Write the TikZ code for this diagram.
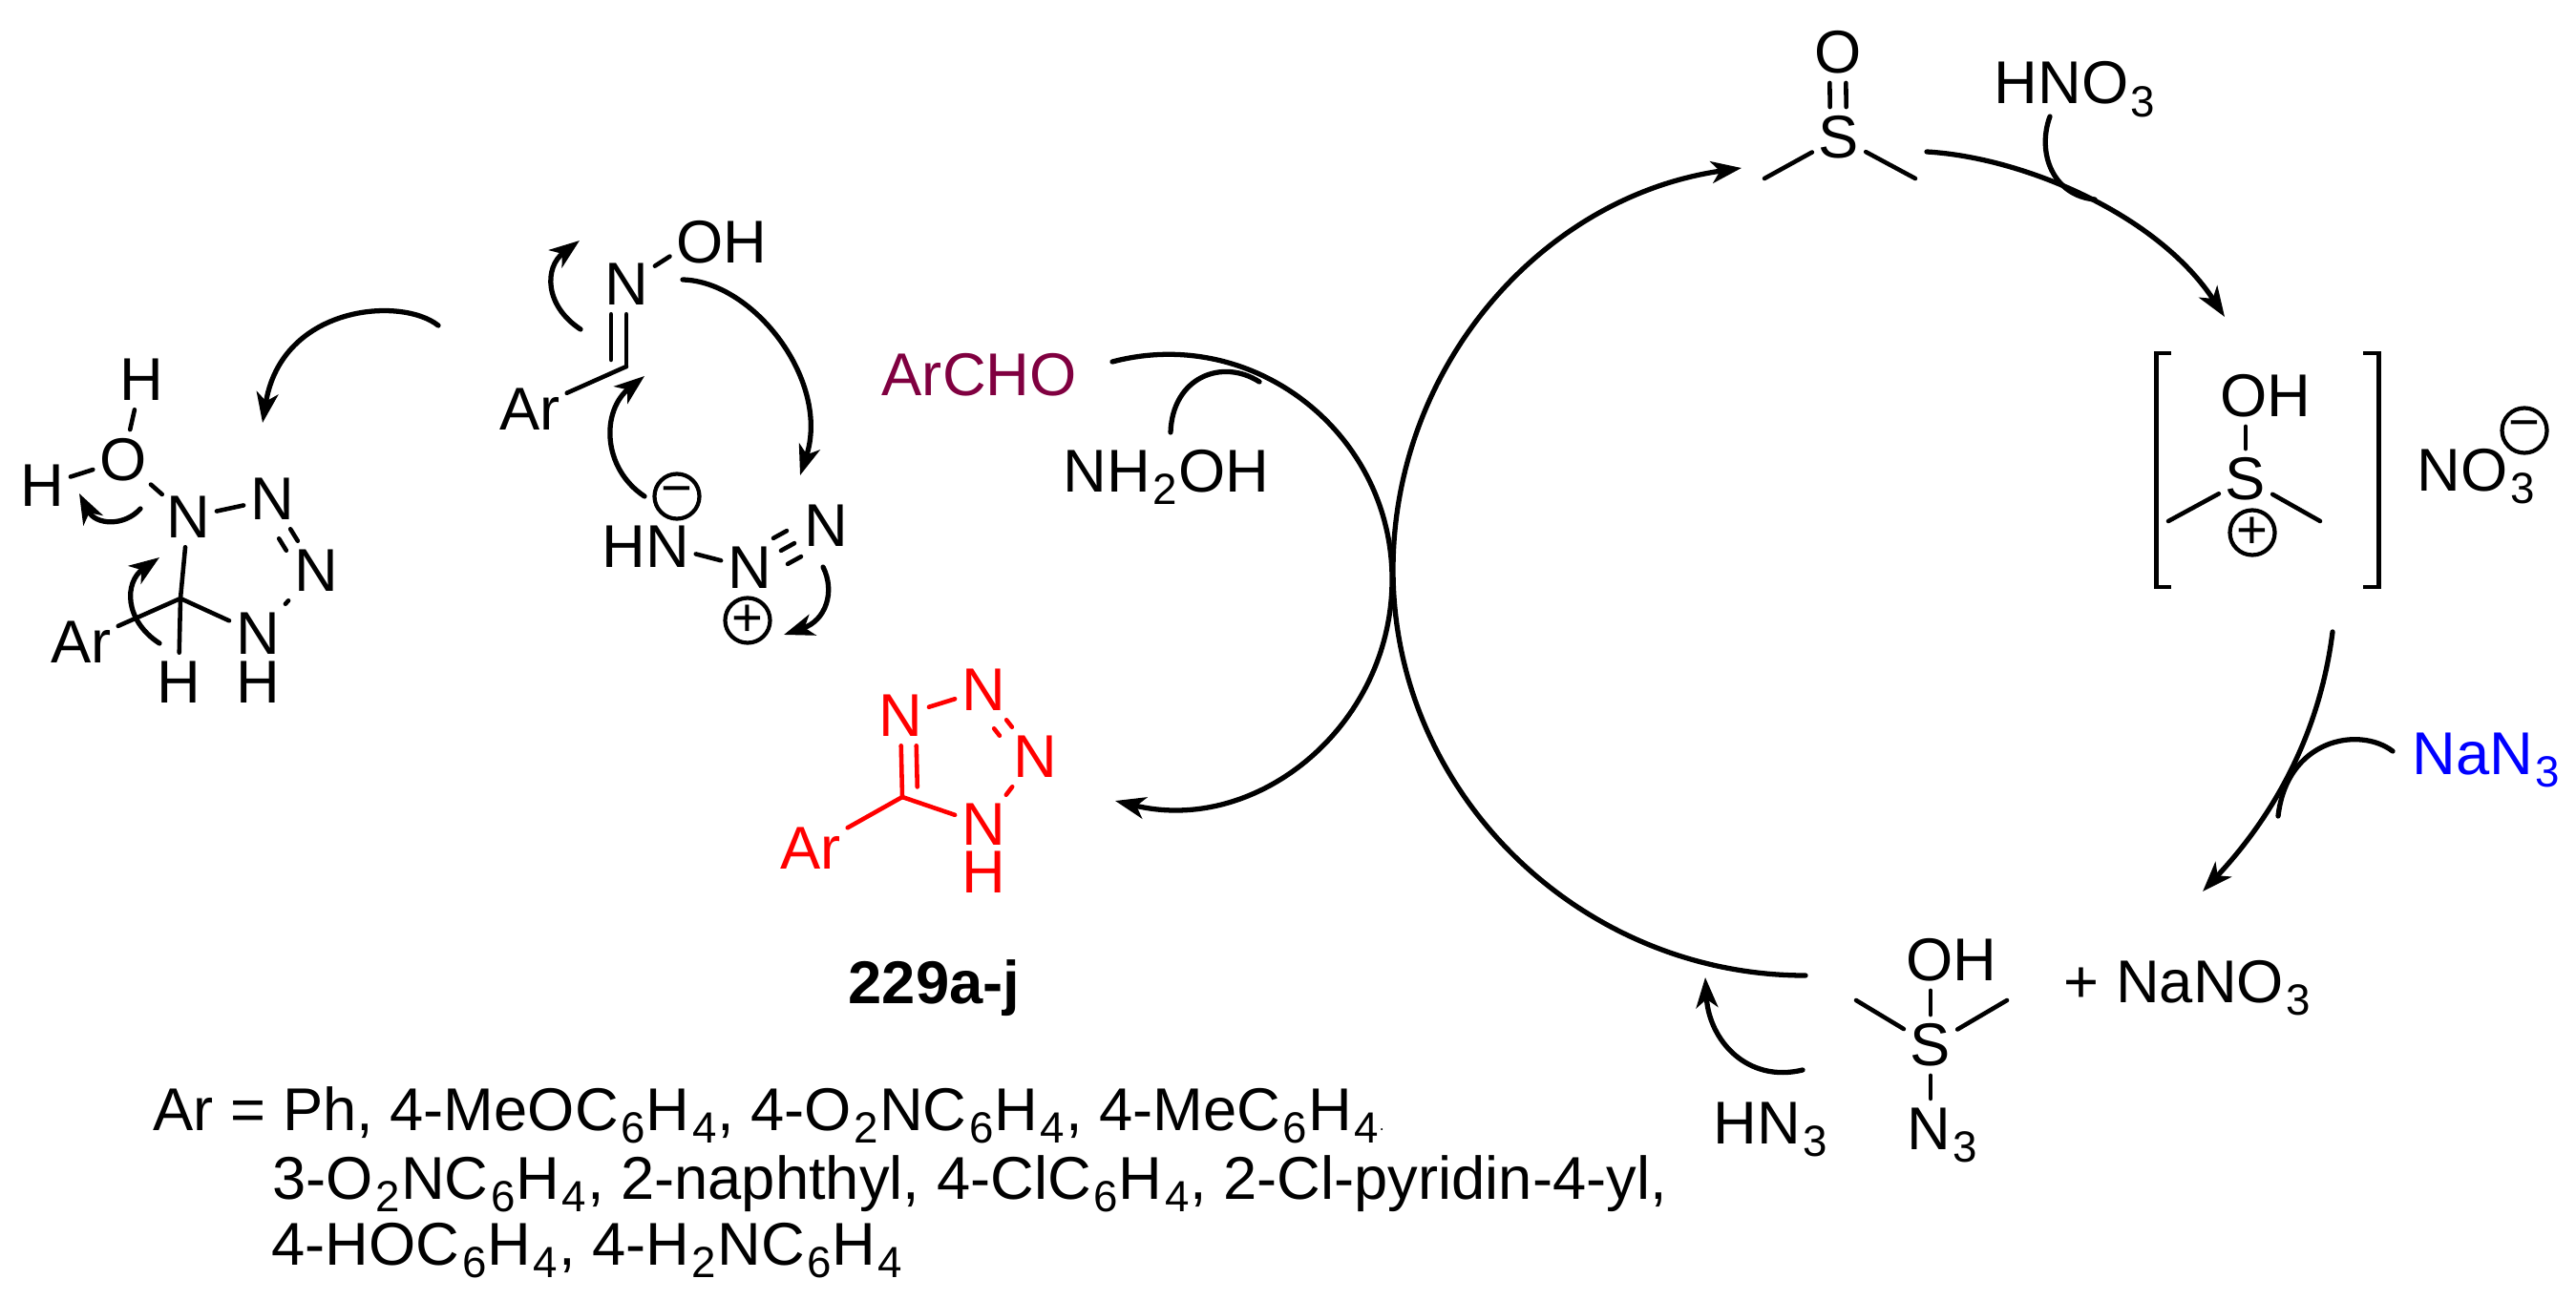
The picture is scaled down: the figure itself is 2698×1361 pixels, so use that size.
\documentclass[tikz,border=0pt]{standalone}
\usepackage{fontspec}
\setmainfont{Liberation Sans}
\usetikzlibrary{arrows.meta}
\definecolor{aldehyde}{HTML}{800040}
\newcommand{\lowidx}[1]{\kern.7pt\raisebox{-3.9pt}{\fontsize{13}{13}\selectfont #1}\kern.3pt}
\tikzset{
	atom/.style={inner xsep=1.8pt,inner ysep=2.5pt,font=\fontsize{18}{20}\selectfont},
	lbl/.style={anchor=base west,inner xsep=0pt,inner ysep=2.5pt,font=\fontsize{18}{20}\selectfont},
	charge/.style={shape=circle,draw=black,line width=1.2pt,minimum size=.47cm,inner sep=0pt,font=\fontsize{16}{16}\selectfont},
	bond/.style={line width=1.3pt,line cap=round},
	curved/.style={line width=1.5pt,line cap=round,-{Stealth[length=9pt,width=6.5pt,inset=2.5pt]}},
	plain/.style={line width=1.5pt,line cap=round}
}
\begin{document}
\begin{tikzpicture}[x=.01cm,y=-.01cm]
	\useasboundingbox (0,0) rectangle (2698,1361);

	% open ring intermediate
	\node[atom] (h1) at (148, 398) {H};
	\node[atom] (o1) at (129, 482) {O};
	\node[atom] (h2) at (44, 509) {H};
	\node[atom] (n1) at (197, 542) {N};
	\node[atom] (n2) at (285, 523) {N};
	\node[atom] (n3) at (331, 598) {N};
	\node[atom] (n4) at (270, 664) {N};
	\node[atom] (h3) at (270, 715) {H};
	\node[atom] (h4) at (187, 715) {H};
	\node[atom] (ar1) at (85, 673) {Ar};
	\coordinate (c1) at (189, 627);

	\draw[bond] (h1) -- (o1);
	\draw[bond] (h2) -- (o1);
	\draw[bond,shorten <=-1pt,shorten >=-1pt] (o1) -- (n1);
	\draw[bond] (n1) -- (n2);
	\draw[bond] (n2) -- (n3);
	\draw[bond,transform canvas={shift={(-12,10)}}] (n2) -- (n3);
	\draw[bond] (n3) -- (n4);
	\draw[bond] (n1) -- (c1);
	\draw[bond] (c1) -- (n4);
	\draw[bond] (c1) -- (ar1);
	\draw[bond] (c1) -- (h4);

	% oxime and azide
	\node[atom] (n5) at (656, 298) {N};
	\node[atom] (oh1) at (756, 254) {OH};
	\node[atom] (ar2) at (555, 429) {Ar};
	\coordinate (c2) at (656, 384);
	\node[atom] (hn) at (676, 573) {HN};
	\node[atom] (n6) at (785, 595) {N};
	\node[atom] (n7) at (865, 551) {N};
	\node[charge] (minus1) at (709, 520) {−};
	\node[charge] (plus1) at (783, 650) {+};

	\draw[bond] (n5) -- (oh1.195);
	\draw[bond] (n5) -- (c2);
	\draw[bond,shorten >=2pt,transform canvas={shift={(-16,0)}}] (n5) -- (c2);
	\draw[bond] (c2) -- (ar2);
	\draw[bond] (hn.352) -- (n6);
	\draw[bond,shorten <=1pt,shorten >=1pt] (n6) -- (n7);
	\draw[bond,shorten <=1pt,shorten >=1pt,transform canvas={shift={(-8,-13)}}] (n6) -- (n7);
	\draw[bond,shorten <=1pt,shorten >=1pt,transform canvas={shift={(7,14)}}] (n6) -- (n7);

	% product
	\begin{scope}[red]
	\node[atom] (n8) at (943, 750) {N};
	\node[atom] (n9) at (1030, 723) {N};
	\node[atom] (n10) at (1084, 793) {N};
	\node[atom] (n11) at (1030, 864) {N};
	\node[atom] (h5) at (1030, 914) {H};
	\node[atom] (ar3) at (849, 889) {Ar};
	\coordinate (c3) at (945, 835);
	\draw[bond] (n8) -- (c3);
	\draw[bond,shorten >=3pt,transform canvas={shift={(16,0)}}] (n8) -- (c3);
	\draw[bond] (n8) -- (n9);
	\draw[bond] (n9) -- (n10);
	\draw[bond,transform canvas={shift={(-13,9)}}] (n9) -- (n10);
	\draw[bond] (n10) -- (n11);
	\draw[bond] (c3) -- (n11);
	\draw[bond] (c3) -- (ar3);
	\end{scope}
	\node[lbl,font=\fontsize{18}{20}\selectfont\bfseries] (cpd) at (888, 1051) {229a-j};

	% sulfoxide
	\node[atom] (o2) at (1925, 55) {O};
	\node[atom] (s1) at (1926, 144) {S};
	\coordinate (me1) at (1848, 187);
	\coordinate (me2) at (2006, 187);
	\draw[bond,transform canvas={shift={(-9,0)}}] (o2) -- (s1);
	\draw[bond,transform canvas={shift={(8,0)}}] (o2) -- (s1);
	\draw[bond] (s1) -- (me1);
	\draw[bond] (s1) -- (me2);
	\node[lbl] (hno3) at (2088, 109) {HNO\lowidx{3}};

	% protonated sulfoxide
	\node[atom] (oh2) at (2373, 415) {OH};
	\node[atom] (s2) at (2352, 502) {S};
	\node[charge] (plus2) at (2359, 558) {+};
	\coordinate (me3) at (2271, 546);
	\coordinate (me4) at (2430, 546);
	\draw[bond] (s2) -- (s2 |- oh2.south);
	\draw[bond] (s2) -- (me3);
	\draw[bond] (s2) -- (me4);
	\draw[line width=1.4pt] (2274, 370) -| (2258, 615) -- (2274, 615);
	\draw[line width=1.4pt] (2475, 370) -| (2491, 615) -- (2475, 615);
	\node[lbl] (no3) at (2531, 514) {NO\lowidx{3}};
	\node[charge] (minus2) at (2644, 451) {−};
	\node[lbl,blue] (nan3) at (2526, 811) {NaN\lowidx{3}};

	% azido sulfur
	\node[atom] (oh3) at (2044, 1006) {OH};
	\node[atom] (s3) at (2022, 1095) {S};
	\node[lbl] (n12) at (1997, 1204) {N\lowidx{3}};
	\coordinate (me5) at (1944, 1048);
	\coordinate (me6) at (2102, 1048);
	\draw[bond] (s3) -- (s3 |- oh3.south);
	\draw[bond] (s3) -- (s3 |- n12.north);
	\draw[bond] (s3) -- (me5);
	\draw[bond] (s3) -- (me6);
	\node[lbl] (nano3) at (2161, 1050) {+ NaNO\lowidx{3}};
	\node[lbl] (hn3) at (1794, 1198) {HN\lowidx{3}};

	\node[lbl,aldehyde] (archo) at (923, 414) {ArCHO};
	\node[lbl] (nh2oh) at (1113, 515) {NH\lowidx{2}OH};

	% text under the scheme
	\node[lbl] (line1) at (160, 1184) {Ar = Ph, 4-MeOC\lowidx{6}H\lowidx{4}, 4-O\lowidx{2}NC\lowidx{6}H\lowidx{4}, 4-MeC\lowidx{6}H\lowidx{4}{\fontsize{5}{5}\selectfont .}};
	\node[lbl] (line2) at (285, 1256) {3-O\lowidx{2}NC\lowidx{6}H\lowidx{4}, 2-naphthyl, 4-ClC\lowidx{6}H\lowidx{4}, 2-Cl-pyridin-4-yl,};
	\node[lbl] (line3) at (284, 1325) {4-HOC\lowidx{6}H\lowidx{4}, 4-H\lowidx{2}NC\lowidx{6}H\lowidx{4}};

	% free ends of the curved arrows
	\coordinate (a1) at (459, 341);
	\coordinate (a2) at (275, 443);
	\coordinate (a3) at (147, 533);
	\coordinate (a4) at (83, 517);
	\coordinate (a5) at (167, 674);
	\coordinate (a6) at (167, 584);
	\coordinate (a7) at (608, 345);
	\coordinate (a8) at (607, 252);
	\coordinate (a9) at (715, 293);
	\coordinate (a10) at (838, 498);
	\coordinate (a11) at (675, 520);
	\coordinate (a12) at (675, 394);
	\coordinate (a13) at (862, 594);
	\coordinate (a14) at (821, 665);
	\draw[curved] (a1) .. controls (420, 310) and (295, 320) .. (a2);
	\draw[curved] (a3) .. controls (130, 552) and (100, 550) .. (a4);
	\draw[curved] (a5) .. controls (130, 650) and (130, 610) .. (a6);
	\draw[curved] (a7) .. controls (570, 320) and (570, 280) .. (a8);
	\draw[curved] (a9) .. controls (790, 295) and (870, 400) .. (a10);
	\draw[curved] (a11) .. controls (630, 490) and (630, 430) .. (a12);
	\draw[curved] (a13) .. controls (875, 620) and (865, 650) .. (a14);

	% the two large circles
	\coordinate (b1) at (1165, 379);
	\coordinate (b2) at (1458, 607);
	\coordinate (b3) at (1168, 839);
	\draw[curved] (b1) .. controls (1313, 340) and (1458, 454) .. (b2) .. controls (1458, 760) and (1317, 875) .. (b3);
	\coordinate (b4) at (1891, 1022);
	\coordinate (b5) at (1459, 597);
	\coordinate (b6) at (1824, 176);
	\draw[curved] (b4) .. controls (1656, 1022) and (1459, 832) .. (b5) .. controls (1459, 385) and (1614, 206) .. (b6);
	\coordinate (b7) at (2018, 159);
	\coordinate (b8) at (2330, 332);
	\draw[curved] (b7) .. controls (2120, 165) and (2260, 225) .. (b8);
	\coordinate (b9) at (2443, 662);
	\coordinate (b10) at (2307, 934);
	\draw[curved] (b9) .. controls (2432, 750) and (2395, 840) .. (b10);

	% reagents entering the arcs
	\coordinate (r1) at (2147, 122);
	\coordinate (r2) at (2194, 209);
	\draw[plain] (r1) .. controls (2133, 160) and (2150, 205) .. (r2);
	\coordinate (r3) at (2506, 787);
	\coordinate (r4) at (2386, 855);
	\draw[plain] (r3) .. controls (2470, 760) and (2395, 775) .. (r4);
	\coordinate (r5) at (1226, 453);
	\coordinate (r6) at (1319, 400);
	\draw[plain] (r5) .. controls (1228, 395) and (1280, 375) .. (r6);
	\coordinate (r7) at (1888, 1121);
	\coordinate (r8) at (1786, 1024);
	\draw[curved] (r7) .. controls (1830, 1135) and (1790, 1090) .. (r8);
\end{tikzpicture}
\end{document}
